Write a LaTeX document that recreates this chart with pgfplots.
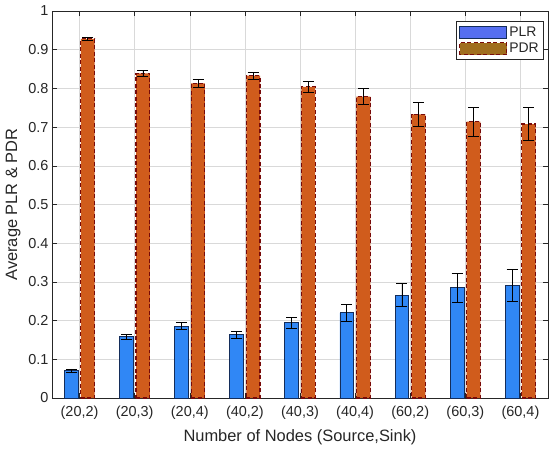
\documentclass[border=0pt]{standalone}
\usepackage{fontspec}
\setmainfont{Liberation Sans}
\usepackage{pgfplots}
\usepackage{pgfplotstable}
\pgfplotsset{compat=1.18}

\definecolor{plr}{RGB}{48,135,245}
\definecolor{plrleg}{RGB}{85,110,240}
\definecolor{plredge}{RGB}{20,45,90}
\definecolor{pdr}{RGB}{208,92,28}
\definecolor{pdrleg}{RGB}{160,110,30}
\definecolor{pdredge}{RGB}{120,10,10}
\definecolor{txt}{RGB}{38,38,38}

\pgfplotsset{
  widepatch/.style={legend image code/.code={\draw[##1] (0bp,-6bp) rectangle (47bp,6bp);}}
}

\pgfplotstableread{
x plr plre pdr pdre
1 0.070 0.005 0.928 0.005
2 0.158 0.006 0.839 0.007
3 0.186 0.010 0.813 0.010
4 0.163 0.008 0.833 0.009
5 0.194 0.015 0.804 0.015
6 0.220 0.021 0.779 0.021
7 0.266 0.030 0.733 0.030
8 0.285 0.037 0.714 0.037
9 0.291 0.042 0.708 0.042
}\datatable

\begin{document}
\begin{tikzpicture}
\begin{axis}[
  scale only axis, width=496bp, height=387bp,
  xmin=0.5, xmax=9.5, ymin=0, ymax=1,
  xtick={1,...,9},
  xticklabels={{(20,2)},{(20,3)},{(20,4)},{(40,2)},{(40,3)},{(40,4)},{(60,2)},{(60,3)},{(60,4)}},
  ytick={0,0.1,0.2,0.3,0.4,0.5,0.6,0.7,0.8,0.9,1},
  yticklabels={0,0.1,0.2,0.3,0.4,0.5,0.6,0.7,0.8,0.9,1},
  grid=major,
  major grid style={black!15, line width=0.5pt},
  tick align=inside,
  major tick length=5bp,
  tick style={txt, line width=0.5pt},
  axis line style={txt, line width=0.6pt},
  tick label style={font=\fontsize{14.5}{16}\selectfont, text=txt},
  label style={font=\fontsize{16.5}{18}\selectfont, text=txt},
  xticklabel style={yshift=-5bp},
  xlabel={Number of Nodes (Source,Sink)},
  ylabel={Average PLR \& PDR},
  xlabel style={yshift=-3bp},
  ylabel style={yshift=1bp},
  bar width=0.25,
  legend style={at={(0.992,0.973)}, anchor=north east, draw=txt, line width=0.6pt,
    font=\fontsize{14}{16}\selectfont, text=txt, inner xsep=3bp, inner ysep=3bp, row sep=1.5bp},
  legend cell align=left,
]
\addplot[ybar, bar shift=0, fill=plr, draw=plredge, line width=0.9pt,
  error bars/.cd, y dir=both, y explicit,
  error bar style={black, line width=0.8pt},
  error mark options={black, mark size=5.5bp, line width=0.8pt, rotate=90}]
  table[x expr=\thisrow{x}-0.15, y=plr, y error=plre]{\datatable};
\addplot[ybar, bar shift=0, fill=pdr, draw=pdredge, line width=1.1pt, dash pattern=on 4pt off 2.5pt,
  error bars/.cd, y dir=both, y explicit,
  error bar style={black, line width=0.8pt, solid},
  error mark options={black, mark size=5.5bp, line width=0.8pt, solid, rotate=90}]
  table[x expr=\thisrow{x}+0.15, y=pdr, y error=pdre]{\datatable};
\addlegendimage{widepatch, fill=plrleg, draw=plredge, line width=0.9pt}
\addlegendimage{widepatch, fill=pdrleg, draw=pdredge, line width=1.1pt, dash pattern=on 4pt off 2.5pt}
\legend{,,PLR,PDR}
\end{axis}
\pgfresetboundingbox
\path (current axis.south west) ++(-52bp,-52bp) rectangle ++(550bp,450bp);
\end{tikzpicture}
\end{document}
